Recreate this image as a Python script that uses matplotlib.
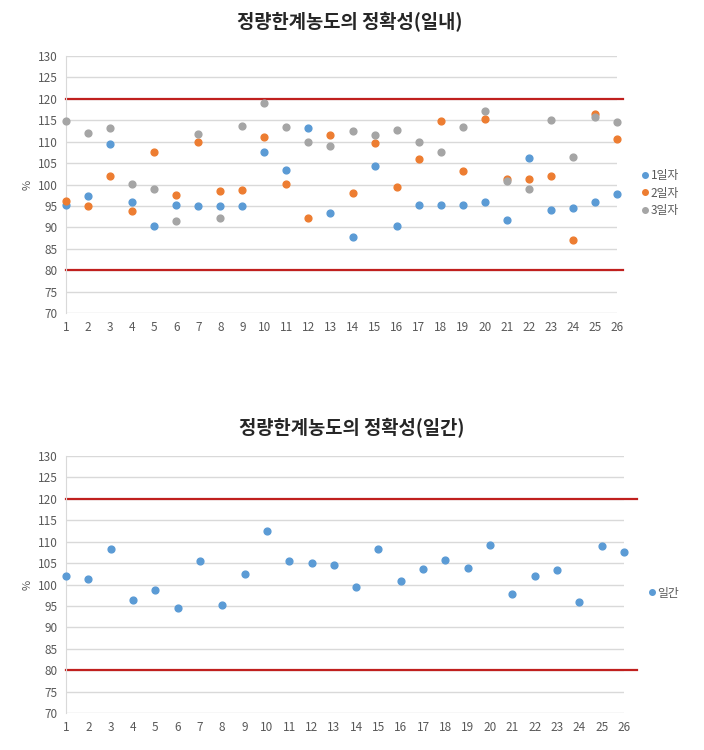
import matplotlib
matplotlib.use("Agg")
import matplotlib.pyplot as plt
from matplotlib.lines import Line2D

plt.rcParams['font.family'] = ['Noto Sans CJK KR', 'DejaVu Sans']

# 데이터
samples = list(range(1, 27))
day1 = [95.3, 97.2, 109.4, 95.8, 90.4, 95.3, 95.0, 95.0, 95.0, 107.6, 103.3, 113.1, 93.3,
        87.7, 104.3, 90.4, 95.2, 95.2, 95.3, 96.0, 91.8, 106.2, 94.0, 94.6, 96.0, 97.8]
day2 = [96.1, 95.0, 102.1, 93.8, 107.6, 97.5, 109.9, 98.5, 98.7, 111.1, 100.1, 92.2, 111.6,
        97.9, 109.6, 99.5, 105.9, 114.8, 103.1, 115.4, 101.4, 101.2, 101.9, 87.1, 116.4, 110.7]
day3 = [114.9, 112.0, 113.1, 100.2, 99.0, 91.4, 111.8, 92.2, 113.6, 119.0, 113.5, 110.0, 109.0,
        112.6, 111.6, 112.7, 110.0, 107.6, 113.4, 117.1, 100.9, 99.0, 115.0, 106.4, 115.8, 114.5]
inter_day = [102.0, 101.2, 108.2, 96.4, 98.8, 94.6, 105.4, 95.1, 102.4, 112.5, 105.5, 105.0, 104.6,
             99.3, 108.3, 100.8, 103.6, 105.8, 103.8, 109.3, 97.8, 102.0, 103.4, 95.9, 109.1, 107.5]
limits = [80, 120]
yticks = list(range(70, 131, 5))

BLUE = '#5B9BD5'
ORANGE = '#ED7D31'
GRAY = '#A5A5A5'
RED = '#C0201E'
TXT = '#595959'

fig = plt.figure(figsize=(7.04, 7.5), dpi=100)


def style_axes(ax, red_end):
    ax.set_xlim(1, 26)
    ax.set_ylim(70, 130)
    ax.set_xticks(samples)
    ax.set_yticks(yticks)
    ax.tick_params(length=0, labelsize=8.5, colors=TXT, pad=6)
    ax.grid(axis='y', color='#D9D9D9', linewidth=1)
    ax.set_axisbelow(True)
    for s in ['top', 'right', 'bottom']:
        ax.spines[s].set_visible(False)
    ax.spines['left'].set_color('#D9D9D9')
    ax.set_ylabel('%', fontsize=8, color=TXT, labelpad=4)
    # 한계선 80%, 120%
    for lim in limits:
        ax.plot([1, red_end], [lim, lim], color=RED, linewidth=1.6, clip_on=False, zorder=1)


# 일내
ax1 = fig.add_axes([66 / 704, 1 - 313 / 750, 551 / 704, 257 / 750])
style_axes(ax1, 26.25)
ax1.scatter(samples, day1, s=24, color=BLUE, clip_on=False, zorder=3, label='1일자')
ax1.scatter(samples, day2, s=24, color=ORANGE, clip_on=False, zorder=3, label='2일자')
ax1.scatter(samples, day3, s=24, color=GRAY, clip_on=False, zorder=3, label='3일자')
fig.text(350 / 704, 1 - 22 / 750, '정량한계농도의 정확성(일내)', ha='center', va='center',
         fontsize=13.5, fontweight='bold', color='#262626')
handles = [Line2D([], [], marker='o', linestyle='', color=c, markersize=4)
           for c in [BLUE, ORANGE, GRAY]]
ax1.legend(handles, ['1일자', '2일자', '3일자'], loc='center left',
           bbox_to_anchor=(634 / 704, 1 - 193 / 750), bbox_transform=fig.transFigure,
           frameon=False, fontsize=8.5, handletextpad=0.0, labelspacing=0.4,
           handlelength=1.0, labelcolor=TXT, borderaxespad=0)

# 일간
ax2 = fig.add_axes([66 / 704, 1 - 713 / 750, 558 / 704, 257 / 750])
style_axes(ax2, 26.6)
ax2.scatter(samples, inter_day, s=24, color=BLUE, clip_on=False, zorder=3)
fig.text(352 / 704, 1 - 428 / 750, '정량한계농도의 정확성(일간)', ha='center', va='center',
         fontsize=13.5, fontweight='bold', color='#262626')
ax2.legend([Line2D([], [], marker='o', linestyle='', color=BLUE, markersize=4)], ['일간'],
           loc='center left', bbox_to_anchor=(641 / 704, 1 - 593 / 750),
           bbox_transform=fig.transFigure, frameon=False, fontsize=8.5,
           handletextpad=0.0, handlelength=1.0, labelcolor=TXT, borderaxespad=0)

fig.savefig('out.png', dpi=100)
